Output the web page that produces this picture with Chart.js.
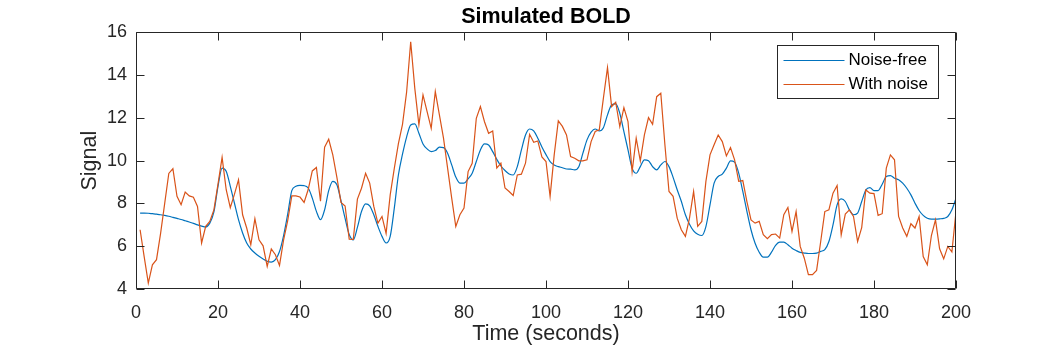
<!DOCTYPE html>
<html>
<head>
<meta charset="utf-8">
<title>Simulated BOLD</title>
<script src="https://cdn.jsdelivr.net/npm/chart.js@4.4.1/dist/chart.umd.min.js"></script>
<style>
  html, body { margin: 0; padding: 0; background: #fff; }
  #wrap { width: 1056px; height: 350px; }
</style>
</head>
<body>
<div id="wrap"><canvas id="grafica" width="1056" height="350"></canvas></div>
<script>
// =================== Datos ===================
// tiempo en segundos (una muestra por segundo)
const seconds = Array.from({ length: 200 }, (_, i) => i + 1);

// señal sin ruido
const noiseFree = [
  7.55, 7.55, 7.54, 7.52, 7.50, 7.47, 7.44, 7.40, 7.35, 7.30,
  7.25, 7.19, 7.13, 7.07, 7.00, 6.94, 6.90, 7.08, 7.60, 8.80,
  9.65, 9.50, 8.80, 8.02, 7.24, 6.62, 6.15, 5.87, 5.68, 5.53,
  5.40, 5.30, 5.26, 5.37, 5.75, 6.50, 7.50, 8.60, 8.80, 8.84,
  8.83, 8.72, 8.25, 7.63, 7.24, 7.70, 8.60, 9.03, 8.87, 8.12,
  7.30, 6.55, 6.30, 6.88, 7.62, 7.98, 7.89, 7.47, 6.93, 6.46,
  6.15, 6.46, 7.78, 9.33, 10.30, 11.10, 11.67, 11.72, 11.28, 10.78,
  10.55, 10.42, 10.47, 10.63, 10.61, 10.35, 9.80, 9.23, 8.95, 8.95,
  9.15, 9.41, 9.96, 10.50, 10.78, 10.73, 10.42, 10.06, 9.75, 9.54,
  9.38, 9.33, 9.72, 10.50, 11.20, 11.48, 11.39, 11.05, 10.64, 10.28,
  9.96, 9.80, 9.72, 9.67, 9.61, 9.60, 9.57, 9.72, 10.35, 10.97,
  11.33, 11.48, 11.39, 11.54, 12.14, 12.60, 12.65, 12.21, 11.36, 10.50,
  9.65, 9.41, 9.72, 10.04, 10.00, 9.72, 9.57, 9.80, 9.96, 9.72,
  9.22, 8.64, 8.10, 7.47, 7.03, 6.72, 6.56, 6.50, 6.92, 7.93,
  8.95, 9.26, 9.37, 9.65, 9.99, 9.93, 9.42, 8.56, 7.63, 6.77,
  6.14, 5.72, 5.49, 5.49, 5.72, 6.04, 6.19, 6.19, 6.07, 5.91,
  5.80, 5.71, 5.68, 5.66, 5.66, 5.68, 5.76, 5.84, 6.22, 7.00,
  7.93, 8.21, 8.09, 7.70, 7.47, 7.55, 8.09, 8.63, 8.74, 8.60,
  8.60, 8.90, 9.26, 9.30, 9.18, 9.11, 8.95, 8.71, 8.40, 8.01,
  7.67, 7.44, 7.31, 7.27, 7.27, 7.28, 7.30, 7.39, 7.70, 8.25
];

// señal con ruido
const withNoise = [
  6.77, 5.50, 4.28, 5.13, 5.37, 6.60, 8.00, 9.40, 9.63, 8.33,
  7.94, 8.53, 8.35, 8.29, 7.86, 6.15, 6.93, 7.16, 7.70, 8.90,
  10.15, 8.64, 7.80, 8.42, 9.10, 7.47, 6.85, 6.07, 7.29, 6.30,
  6.02, 5.06, 5.87, 5.60, 5.10, 6.30, 7.20, 8.35, 8.35, 8.30,
  8.05, 8.65, 9.52, 9.68, 8.10, 10.63, 11.00, 10.27, 9.22, 8.05,
  7.88, 6.33, 6.32, 8.20, 8.71, 9.41, 8.95, 7.86, 7.08, 7.39,
  6.60, 8.40, 9.64, 10.80, 11.70, 13.20, 15.56, 13.38, 11.67, 13.07,
  12.29, 11.51, 13.23, 12.14, 11.05, 9.65, 8.25, 6.92, 7.47, 7.78,
  9.49, 9.88, 11.98, 12.53, 11.82, 11.28, 11.39, 9.65, 9.88, 8.72,
  8.56, 8.37, 9.33, 9.37, 9.88, 11.23, 10.86, 10.92, 10.17, 9.96,
  8.33, 10.27, 11.86, 11.60, 11.20, 10.19, 10.11, 9.99, 9.99, 10.04,
  10.89, 11.36, 11.44, 12.92, 14.35, 12.53, 12.73, 11.59, 12.48, 11.83,
  9.49, 11.05, 9.99, 11.20, 12.01, 11.70, 12.99, 13.15, 10.74, 8.56,
  8.33, 7.31, 6.77, 6.46, 7.31, 8.56, 6.93, 7.16, 9.03, 10.27,
  10.74, 11.20, 10.89, 10.22, 10.61, 10.04, 9.03, 9.07, 8.09, 7.23,
  7.08, 7.16, 6.54, 6.35, 6.54, 6.57, 6.38, 7.47, 7.81, 6.69,
  7.62, 5.99, 5.44, 4.67, 4.67, 4.87, 6.22, 7.62, 7.70, 8.48,
  8.84, 6.53, 7.50, 7.70, 7.39, 6.22, 6.87, 8.63, 8.48, 8.46,
  7.44, 7.52, 9.65, 10.27, 10.04, 7.39, 6.85, 6.46, 7.05, 6.85,
  7.39, 5.52, 5.13, 6.50, 7.23, 5.88, 5.41, 5.99, 5.73, 7.62
];

// marcas de los ejes
const xTicks = [0, 20, 40, 60, 80, 100, 120, 140, 160, 180, 200];
const yTicks = [4, 6, 8, 10, 12, 14, 16];

const seriesNames = ["Noise-free", "With noise"];

// =================== Estilo ===================
const AZUL = "#0072BD";
const NARANJA = "#D95319";
const EJE = "#262626";
const FUENTE = "'Liberation Sans', Arial, Helvetica, sans-serif";
const LARGO_TICK = 8;

// =================== Plugins ===================
// caja completa con marcas hacia adentro (estilo MATLAB)
const marcoEjes = {
  id: "marcoEjes",
  afterDatasetsDraw(chart) {
    const { ctx, chartArea: a, scales: { x, y } } = chart;
    const L = Math.round(a.left) + 0.5;
    const R = Math.round(a.right) - 0.5;
    const T = Math.round(a.top) + 0.5;
    const B = Math.round(a.bottom) - 0.5;
    ctx.save();
    ctx.strokeStyle = EJE;
    ctx.lineWidth = 1;
    ctx.beginPath();
    ctx.rect(L, T, R - L, B - T);
    x.ticks.forEach(t => {
      const px = Math.round(x.getPixelForValue(t.value)) + 0.5;
      ctx.moveTo(px, B); ctx.lineTo(px, B - LARGO_TICK);
      ctx.moveTo(px, T); ctx.lineTo(px, T + LARGO_TICK);
    });
    y.ticks.forEach(t => {
      const py = Math.round(y.getPixelForValue(t.value)) + 0.5;
      ctx.moveTo(L, py); ctx.lineTo(L + LARGO_TICK, py);
      ctx.moveTo(R, py); ctx.lineTo(R - LARGO_TICK, py);
    });
    ctx.stroke();
    ctx.restore();
  }
};

// leyenda dentro del área, esquina superior derecha
const leyenda = {
  id: "leyenda",
  afterDraw(chart) {
    const { ctx, chartArea: a } = chart;
    const w = 161, h = 53;
    const x0 = Math.round(a.right) - 18 - w + 0.5;
    const y0 = Math.round(a.top) + 13 + 0.5;
    ctx.save();
    ctx.fillStyle = "#fff";
    ctx.fillRect(x0, y0, w, h);
    ctx.strokeStyle = EJE;
    ctx.lineWidth = 1;
    ctx.strokeRect(x0, y0, w, h);
    ctx.font = `17px ${FUENTE}`;
    ctx.textBaseline = "middle";
    ctx.textAlign = "left";
    chart.data.datasets.forEach((ds, i) => {
      const yy = y0 + 15 + i * 24;
      ctx.strokeStyle = ds.borderColor;
      ctx.beginPath();
      ctx.moveTo(x0 + 6, yy);
      ctx.lineTo(x0 + 67, yy);
      ctx.stroke();
      ctx.fillStyle = "#000";
      ctx.fillText(ds.label, x0 + 71, yy);
    });
    ctx.restore();
  }
};

// =================== Gráfica ===================
const ctx = document.getElementById("grafica").getContext("2d");

const chart = new Chart(ctx, {
  type: "line",
  data: {
    datasets: [
      {
        label: seriesNames[0],
        data: seconds.map((t, i) => ({ x: t, y: noiseFree[i] })),
        borderColor: AZUL,
        borderWidth: 1.2,
        pointRadius: 0,
        cubicInterpolationMode: "monotone",
        order: 1
      },
      {
        label: seriesNames[1],
        data: seconds.map((t, i) => ({ x: t, y: withNoise[i] })),
        borderColor: NARANJA,
        borderWidth: 1.2,
        pointRadius: 0,
        tension: 0,
        order: 0
      }
    ]
  },
  options: {
    responsive: false,
    animation: false,
    devicePixelRatio: 1,
    layout: { padding: { left: 0, right: 100, top: 0, bottom: 0 } },
    plugins: {
      legend: { display: false },
      tooltip: { enabled: false },
      title: {
        display: true,
        fullSize: false,
        text: "Simulated BOLD",
        color: "#000",
        font: { family: FUENTE, size: 21.5, weight: "bold" },
        padding: { top: 4, bottom: 2.5 }
      }
    },
    scales: {
      x: {
        type: "linear",
        min: xTicks[0],
        max: xTicks[xTicks.length - 1],
        grid: { display: false, drawTicks: false },
        border: { display: false },
        afterBuildTicks: s => { s.ticks = xTicks.map(v => ({ value: v })); },
        ticks: {
          color: EJE,
          padding: 13,
          maxRotation: 0,
          font: { family: FUENTE, size: 18 }
        },
        title: {
          display: true,
          text: "Time (seconds)",
          color: EJE,
          font: { family: FUENTE, size: 21.5 },
          padding: { top: 0, bottom: 3 }
        },
        afterFit: s => { s.height = 61; }
      },
      y: {
        min: yTicks[0],
        max: yTicks[yTicks.length - 1],
        grid: { display: false, drawTicks: false },
        border: { display: false },
        afterBuildTicks: s => { s.ticks = yTicks.map(v => ({ value: v })); },
        ticks: {
          color: EJE,
          padding: 9,
          font: { family: FUENTE, size: 18 }
        },
        title: {
          display: true,
          text: "Signal",
          color: EJE,
          font: { family: FUENTE, size: 21.5 },
          padding: { top: 77, bottom: 0 }
        },
        afterFit: s => { s.width = 136; }
      }
    }
  },
  plugins: [marcoEjes, leyenda]
});
</script>
</body>
</html>
